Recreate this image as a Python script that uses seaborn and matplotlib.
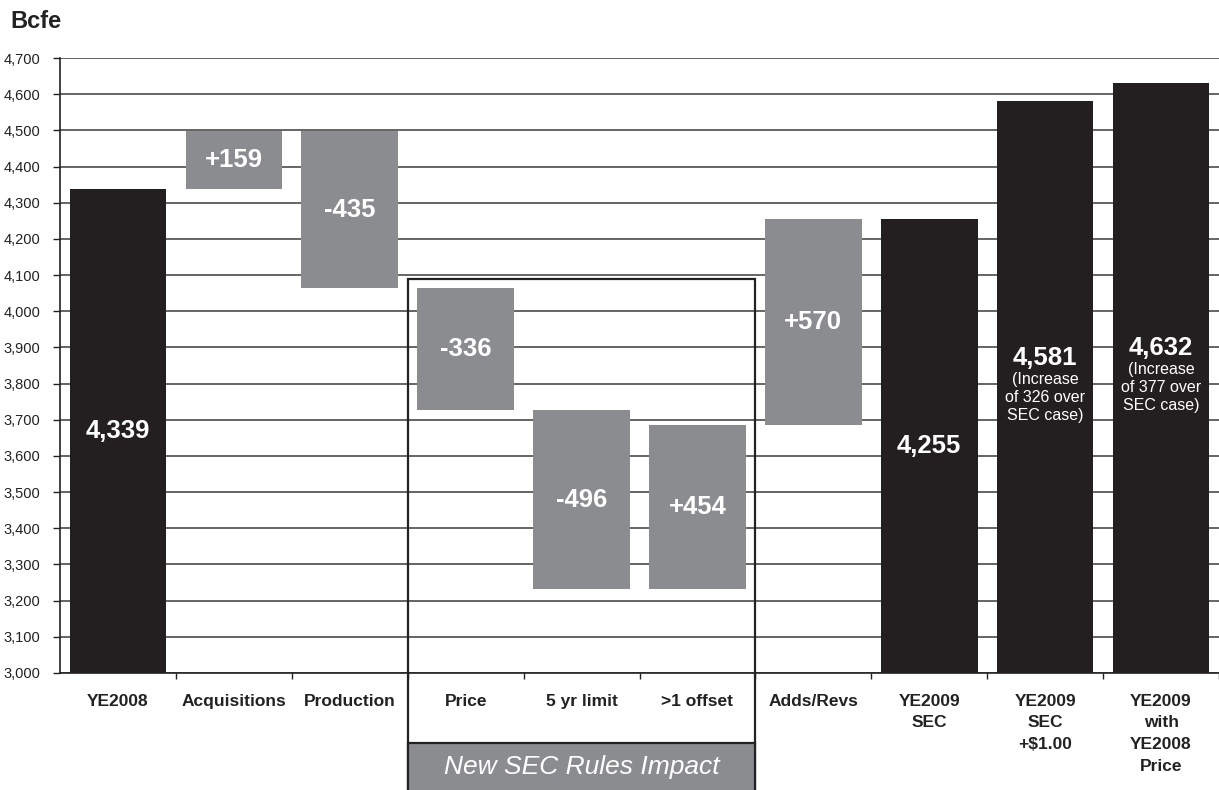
import matplotlib
matplotlib.use("Agg")
import matplotlib.pyplot as plt
import seaborn as sns
import pandas as pd
import numpy as np
from matplotlib.patches import Rectangle
from matplotlib.ticker import FuncFormatter, MultipleLocator

# ---- data ----
categories = ["YE2008", "Acquisitions", "Production", "Price", "5 yr limit",
              ">1 offset", "Adds/Revs", "YE2009\nSEC", "YE2009\nSEC\n+$1.00",
              "YE2009\nwith\nYE2008\nPrice"]
total_cats = ["YE2008", "YE2009\nSEC", "YE2009\nSEC\n+$1.00", "YE2009\nwith\nYE2008\nPrice"]
total_vals = [4339, 4255, 4581, 4632]
change_cats = ["Acquisitions", "Production", "Price", "5 yr limit", ">1 offset", "Adds/Revs"]
change_vals = [159, -435, -336, -496, 454, 570]
notes = {"YE2009\nSEC\n+$1.00": "(Increase\nof 326 over\nSEC case)",
         "YE2009\nwith\nYE2008\nPrice": "(Increase\nof 377 over\nSEC case)"}
box_label = "New SEC Rules Impact"
y_label = "Bcfe"

# running totals for floating bars
start = total_vals[0]
bottoms, heights = [], []
level = start
for d in change_vals:
    new = level + d
    bottoms.append(min(level, new))
    heights.append(abs(d))
    level = new

DARK = "#231f20"
GRAY = "#8b8c90"

sns.set_style("white")
plt.rcParams['font.family'] = ['Liberation Sans', 'DejaVu Sans']

fig = plt.figure(figsize=(12.19, 7.90), dpi=100)
ax = fig.add_axes([60/1219, 117/790, 1159/1219, 615/790])

df_tot = pd.DataFrame({"cat": total_cats, "val": total_vals})
df_chg = pd.DataFrame({"cat": change_cats, "h": heights, "b": bottoms})

sns.barplot(data=df_tot, x="cat", y="val", order=categories, color=DARK,
            saturation=1, width=0.833, ax=ax, zorder=3, linewidth=0)
sns.barplot(data=df_chg, x="cat", y="h", order=categories, color=GRAY,
            saturation=1, width=0.833, ax=ax, zorder=3, linewidth=0,
            bottom=df_chg["b"].values)

ax.set_ylim(3000, 4700)
ax.set_xlim(-0.5, -0.5 + 1159/116.5)
ax.yaxis.set_major_locator(MultipleLocator(100))
ax.yaxis.set_major_formatter(FuncFormatter(lambda v, p: f"{int(v):,}"))
ax.grid(axis="y", color="#3a3a3a", linewidth=1.1, zorder=0)
ax.set_axisbelow(True)
for s in ["top", "right"]:
    ax.spines[s].set_visible(False)
for s in ["left", "bottom"]:
    ax.spines[s].set_color("#222222")
    ax.spines[s].set_linewidth(1.2)
ax.set_xlabel("")
ax.set_ylabel("")
ax.tick_params(axis="y", which="major", left=True, length=5, width=1, color="#222",
               labelsize=10.5, labelcolor="#222", pad=9)
ax.tick_params(axis="x", which="major", length=0, pad=15, labelsize=12.5)
ax.set_xticks(np.arange(len(categories)) + 0.5, minor=True)
ax.tick_params(axis="x", which="minor", bottom=True, length=4, width=1, color="#222")
for lbl in ax.get_xticklabels():
    lbl.set_fontweight("bold")
    lbl.set_color("#222")
    lbl.set_verticalalignment("top")
    lbl.set_linespacing(1.55)

# labels on bars
for c, v in zip(total_cats, total_vals):
    i = categories.index(c)
    if c in notes:
        ytop = 3871 if "326" in notes[c] else 3898
        ax.text(i, ytop, f"{v:,}", ha="center", va="center", color="white",
                fontsize=18.5, fontweight="bold", zorder=5)
        ax.text(i, ytop - 38, notes[c], ha="center", va="top", color="white",
                fontsize=11.5, linespacing=1.25, zorder=5)
    else:
        ax.text(i, (3000 + v) / 2, f"{v:,}", ha="center", va="center",
                color="white", fontsize=18.5, fontweight="bold", zorder=5)
for c, d, b, h in zip(change_cats, change_vals, bottoms, heights):
    i = categories.index(c)
    ax.text(i, b + h / 2, f"{d:+d}", ha="center", va="center", color="white",
            fontsize=18.5, fontweight="bold", zorder=5)

# "New SEC Rules Impact" box
i0 = categories.index("Price") - 0.5
i1 = categories.index(">1 offset") + 0.5
ax.add_patch(Rectangle((i0, 2600), i1 - i0, 4090 - 2600, fill=False,
                       edgecolor="#222", linewidth=1.6, clip_on=False, zorder=4))
ax.add_patch(Rectangle((i0, 2600), i1 - i0, 2807 - 2600, facecolor=GRAY,
                       edgecolor="#222", linewidth=1.6, clip_on=False, zorder=4))
ax.text((i0 + i1) / 2, 2740, box_label, ha="center", va="center", color="white",
        fontsize=19, fontstyle="italic", zorder=6, clip_on=False)

fig.text(10/1219, 1 - 22/790, y_label, ha="left", va="center", fontsize=17,
         fontweight="bold", color="#222")

fig.savefig("out.png", dpi=100)
